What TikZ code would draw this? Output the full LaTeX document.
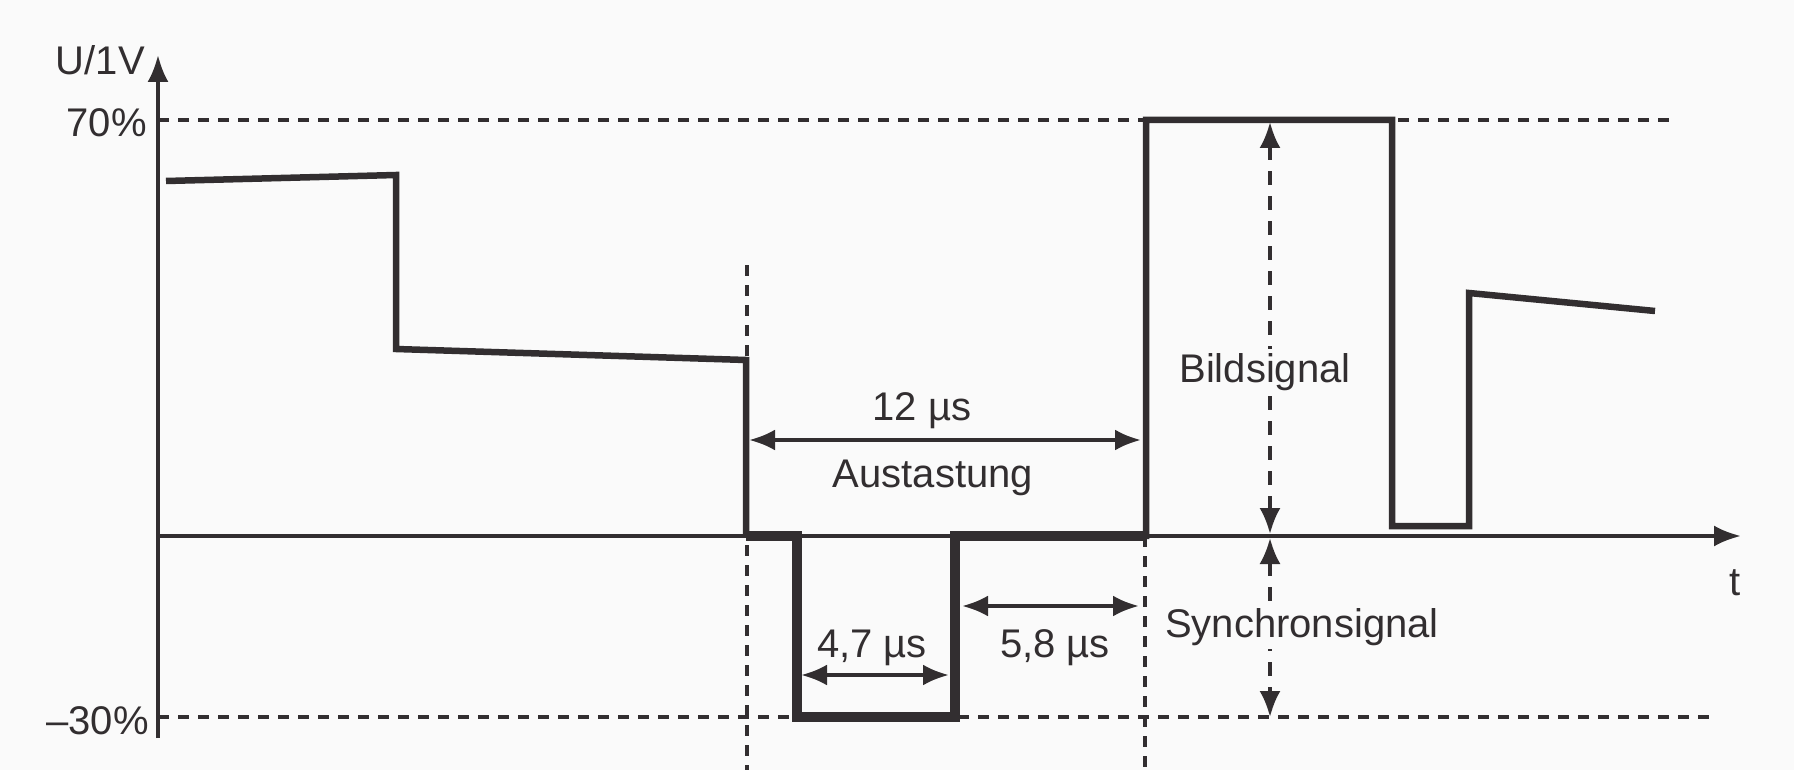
\documentclass[tikz,border=0pt]{standalone}
\usepackage{fontspec}
\setmainfont{Liberation Sans}
\usetikzlibrary{arrows.meta}
\definecolor{ink}{RGB}{50,46,48}
\definecolor{paper}{RGB}{250,250,250}
\tikzset{
  axisline/.style={draw=ink, line width=3.8pt, -{Latex[length=27pt,width=21pt]}},
  guide/.style={draw=ink, line width=3.2pt, dash pattern=on 11pt off 9pt},
  sig/.style={draw=ink, line width=6.5pt, line join=miter},
  blank/.style={draw=ink, line width=10.5pt, line join=miter},
  dim/.style={draw=ink, line width=4pt, {Latex[length=26pt,width=21pt]}-{Latex[length=26pt,width=21pt]}},
  dimdash/.style={dim, line width=3.5pt, dash pattern=on 14pt off 11pt},
  lbl/.style={text=ink, inner sep=0pt, font=\fontsize{40}{48}\selectfont},
  lblbg/.style={lbl, fill=paper, inner sep=4pt}
}
\begin{document}
\begin{tikzpicture}[x=1pt,y=-1pt]
\fill[paper] (0,0) rectangle (1794,770);
\useasboundingbox (0,0) rectangle (1794,770);
% coordinates
\coordinate (O) at (158,536);
\coordinate (ytop) at (158,55);
\coordinate (ybot) at (158,738);
\coordinate (xend) at (1741,536);
\coordinate (p70a) at (158,120);
\coordinate (p70b) at (1676,120);
\coordinate (m30a) at (158,717);
\coordinate (m30b) at (1716,717);
\coordinate (v1t) at (747,265);
\coordinate (v1b) at (747,770);
\coordinate (v2t) at (1145,536);
\coordinate (v2b) at (1145,770);
% guide lines
\draw[guide] (p70a) -- (p70b);
\draw[guide] (m30a) -- (m30b);
\draw[guide] (v1t) -- (v1b);
\draw[guide] (v2t) -- (v2b);
% axes
\draw[axisline] (ybot) -- (ytop);
\draw[axisline] (O) -- (xend);
% signal
\draw[sig] (166,181) -- (396,175) -- (396,349) -- (746,360) -- (746,536);
\draw[blank] (746,536) -- (797,536) -- (797,717) -- (955,717) -- (955,536) -- (1146,536);
\draw[sig] (1146,539) -- (1146,120) -- (1392,120) -- (1392,526) -- (1469,526) -- (1469,293) -- (1655,311);
% dimension arrows
\coordinate (a12l) at (749,440);
\coordinate (a12r) at (1141,440);
\draw[dim] (a12l) -- (a12r);
\coordinate (a47l) at (801,675);
\coordinate (a47r) at (949,675);
\draw[dim] (a47l) -- (a47r);
\coordinate (a58l) at (962,606);
\coordinate (a58r) at (1139,606);
\draw[dim] (a58l) -- (a58r);
\coordinate (bsT) at (1270,122);
\coordinate (bsB) at (1270,534);
\draw[dimdash] (bsB) -- (bsT);
\coordinate (ssT) at (1270,538);
\coordinate (ssB) at (1270,717);
\draw[dimdash] (ssT) -- (ssB);
% labels
\node[lbl, anchor=base east] (lU) at (145,75) {U/1V};
\node[lbl, anchor=base east] (l70) at (147,137) {70\%};
\node[lbl, anchor=base east] (l30) at (149,734) {–30\%};
\node[lbl, anchor=base] (lt) at (1735,595) {t};
\node[lbl, anchor=base] (l12) at (922,420) {12 µs};
\node[lbl, anchor=base] (lAus) at (933,487) {Austastung};
\node[lbl, anchor=base] (l47) at (872,657) {4,7 µs};
\node[lbl, anchor=base] (l58) at (1055,657) {5,8 µs};
\node[lblbg, anchor=base] (lBild) at (1265,382) {Bildsignal};
\node[lblbg, anchor=base] (lSync) at (1302,637) {Synchronsignal};
\end{tikzpicture}
\end{document}
